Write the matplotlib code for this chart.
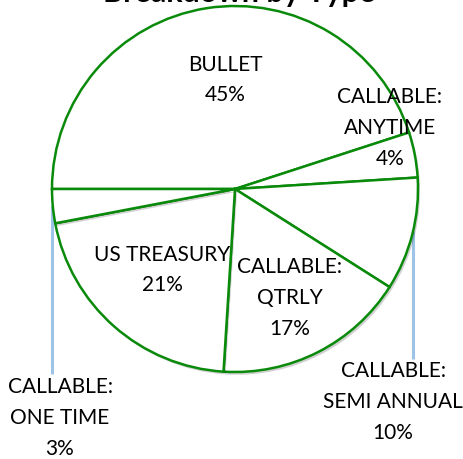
import matplotlib
matplotlib.use("Agg")
import matplotlib.pyplot as plt
import matplotlib.patheffects as pe

categories = ["BULLET", "CALLABLE:\nANYTIME", "CALLABLE:\nSEMI ANNUAL",
              "CALLABLE:\nQTRLY", "US TREASURY", "CALLABLE:\nONE TIME"]
shares = [45, 4, 10, 17, 21, 3]
title = "Breakdown by Type"

# label layout (pixel positions of label centres in the 463x460 canvas)
label_px = [(225, 80), (390, 128), (393, 402), (290, 298), (162, 270), (60, 418)]
# leader lines (pixel coordinates) for outside labels
leaders = [((52, 207), (52, 375)), ((413, 232), (413, 360))]

W, H = 463, 460
cx, cy, R = 235, 190, 183

fig = plt.figure(figsize=(W / 100, H / 100), dpi=100)
ax = fig.add_axes([(cx - R) / W, (H - cy - R) / H, 2 * R / W, 2 * R / H])

wedges, _ = ax.pie(shares, startangle=180, counterclock=False, radius=1,
                   wedgeprops=dict(facecolor="white", edgecolor="#0A8A0A", linewidth=1.8))
for w in wedges:
    w.set_path_effects([pe.SimplePatchShadow(offset=(1.5, -2), shadow_rgbFace="#000000", alpha=0.18),
                        pe.Normal()])
ax.set_xlim(-1, 1)
ax.set_ylim(-1, 1)
ax.axis("off")

def to_data(px, py):
    return (px - cx) / R, (cy - py) / R

for (p0, p1) in leaders:
    x0, y0 = to_data(*p0)
    x1, y1 = to_data(*p1)
    ax.plot([x0, x1], [y0, y1], color="#9DC3E6", lw=2.2, solid_capstyle="butt",
            clip_on=False, zorder=0)

for cat, v, (px, py) in zip(categories, shares, label_px):
    x, y = to_data(px, py)
    ax.text(x, y, f"{cat}\n{v}%", ha="center", va="center", fontsize=15,
            family=["Lato", "DejaVu Sans"], color="#000000", linespacing=1.68,
            clip_on=False)

fig.text(239 / W, 1 - 2 / H, title, ha="center", va="baseline", fontsize=22,
         fontweight="bold", family=["Lato", "DejaVu Sans"], color="#000000")

fig.savefig("out.png", dpi=100)
